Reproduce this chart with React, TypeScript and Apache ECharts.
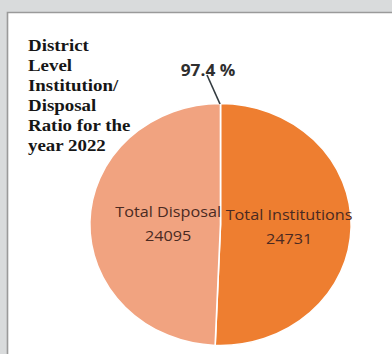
import React, { useEffect, useRef } from "react";
import * as echarts from "echarts";

const categories = ["Total Institutions", "Total Disposal"];
const seriesValues = [24731, 24095];
const sliceColors = ["#EE7E30", "#F1A380"];
const titleLines = ["District", "Level", "Institution/", "Disposal", "Ratio for the", "year 2022"];

const SX = 1.08;
const W = 392 / SX;

export default function App() {
  const ref = useRef<HTMLDivElement>(null);
  useEffect(() => {
    if (!ref.current) return;
    const chart = echarts.init(ref.current, null, { renderer: "svg" });
    const ratio = ((seriesValues[1] / seriesValues[0]) * 100).toFixed(1) + " %";
    const X = (v: number) => v / SX;
    chart.setOption({
      animation: false,
      backgroundColor: "#D9DBDC",
      graphic: [
        {
          type: "rect",
          z: -10,
          shape: { x: X(7.5), y: 12.5, width: 400, height: 360 },
          style: { fill: "#ffffff", stroke: "#9a9a9a", lineWidth: 1.5 },
        },
        {
          type: "text",
          left: X(28),
          top: 35,
          z: 10,
          style: {
            text: titleLines.join("\n"),
            font: "bold 17.5px 'Liberation Serif', serif",
            lineHeight: 20,
            fill: "#161616",
          },
        },
        {
          type: "text",
          x: X(208),
          y: 70,
          z: 10,
          style: {
            text: ratio,
            font: "bold 16px 'Open Sans', sans-serif",
            fill: "#2f2f2f",
            align: "center",
            verticalAlign: "middle",
          },
        },
        {
          type: "line",
          z: 10,
          shape: { x1: X(207), y1: 75, x2: X(220), y2: 104 },
          style: { stroke: "#333b40", lineWidth: 1.5 },
        },
      ],
      series: [
        {
          type: "pie",
          center: [X(220.5), 224.5],
          radius: 121,
          startAngle: 90,
          clockwise: true,
          silent: true,
          itemStyle: { borderColor: "#ffffff", borderWidth: 1.5 },
          label: {
            position: "inside",
            formatter: "{b}\n{c}",
            color: "#4a2a22",
            fontFamily: "'Open Sans', sans-serif",
            fontSize: 15,
            lineHeight: 24,
          },
          labelLine: { show: false },
          data: categories.map((name, i) => ({
            name,
            value: seriesValues[i],
            itemStyle: { color: sliceColors[i] },
            label: { padding: i === 0 ? [0, 0, 0, 0] : [0, 0, 0, 30] },
          })),
        },
      ],
    });
    return () => chart.dispose();
  }, []);
  return (
    <div
      ref={ref}
      style={{
        position: "fixed",
        left: 0,
        top: 0,
        width: W,
        height: 354,
        transform: `scaleX(${SX})`,
        transformOrigin: "0 0",
      }}
    />
  );
}
